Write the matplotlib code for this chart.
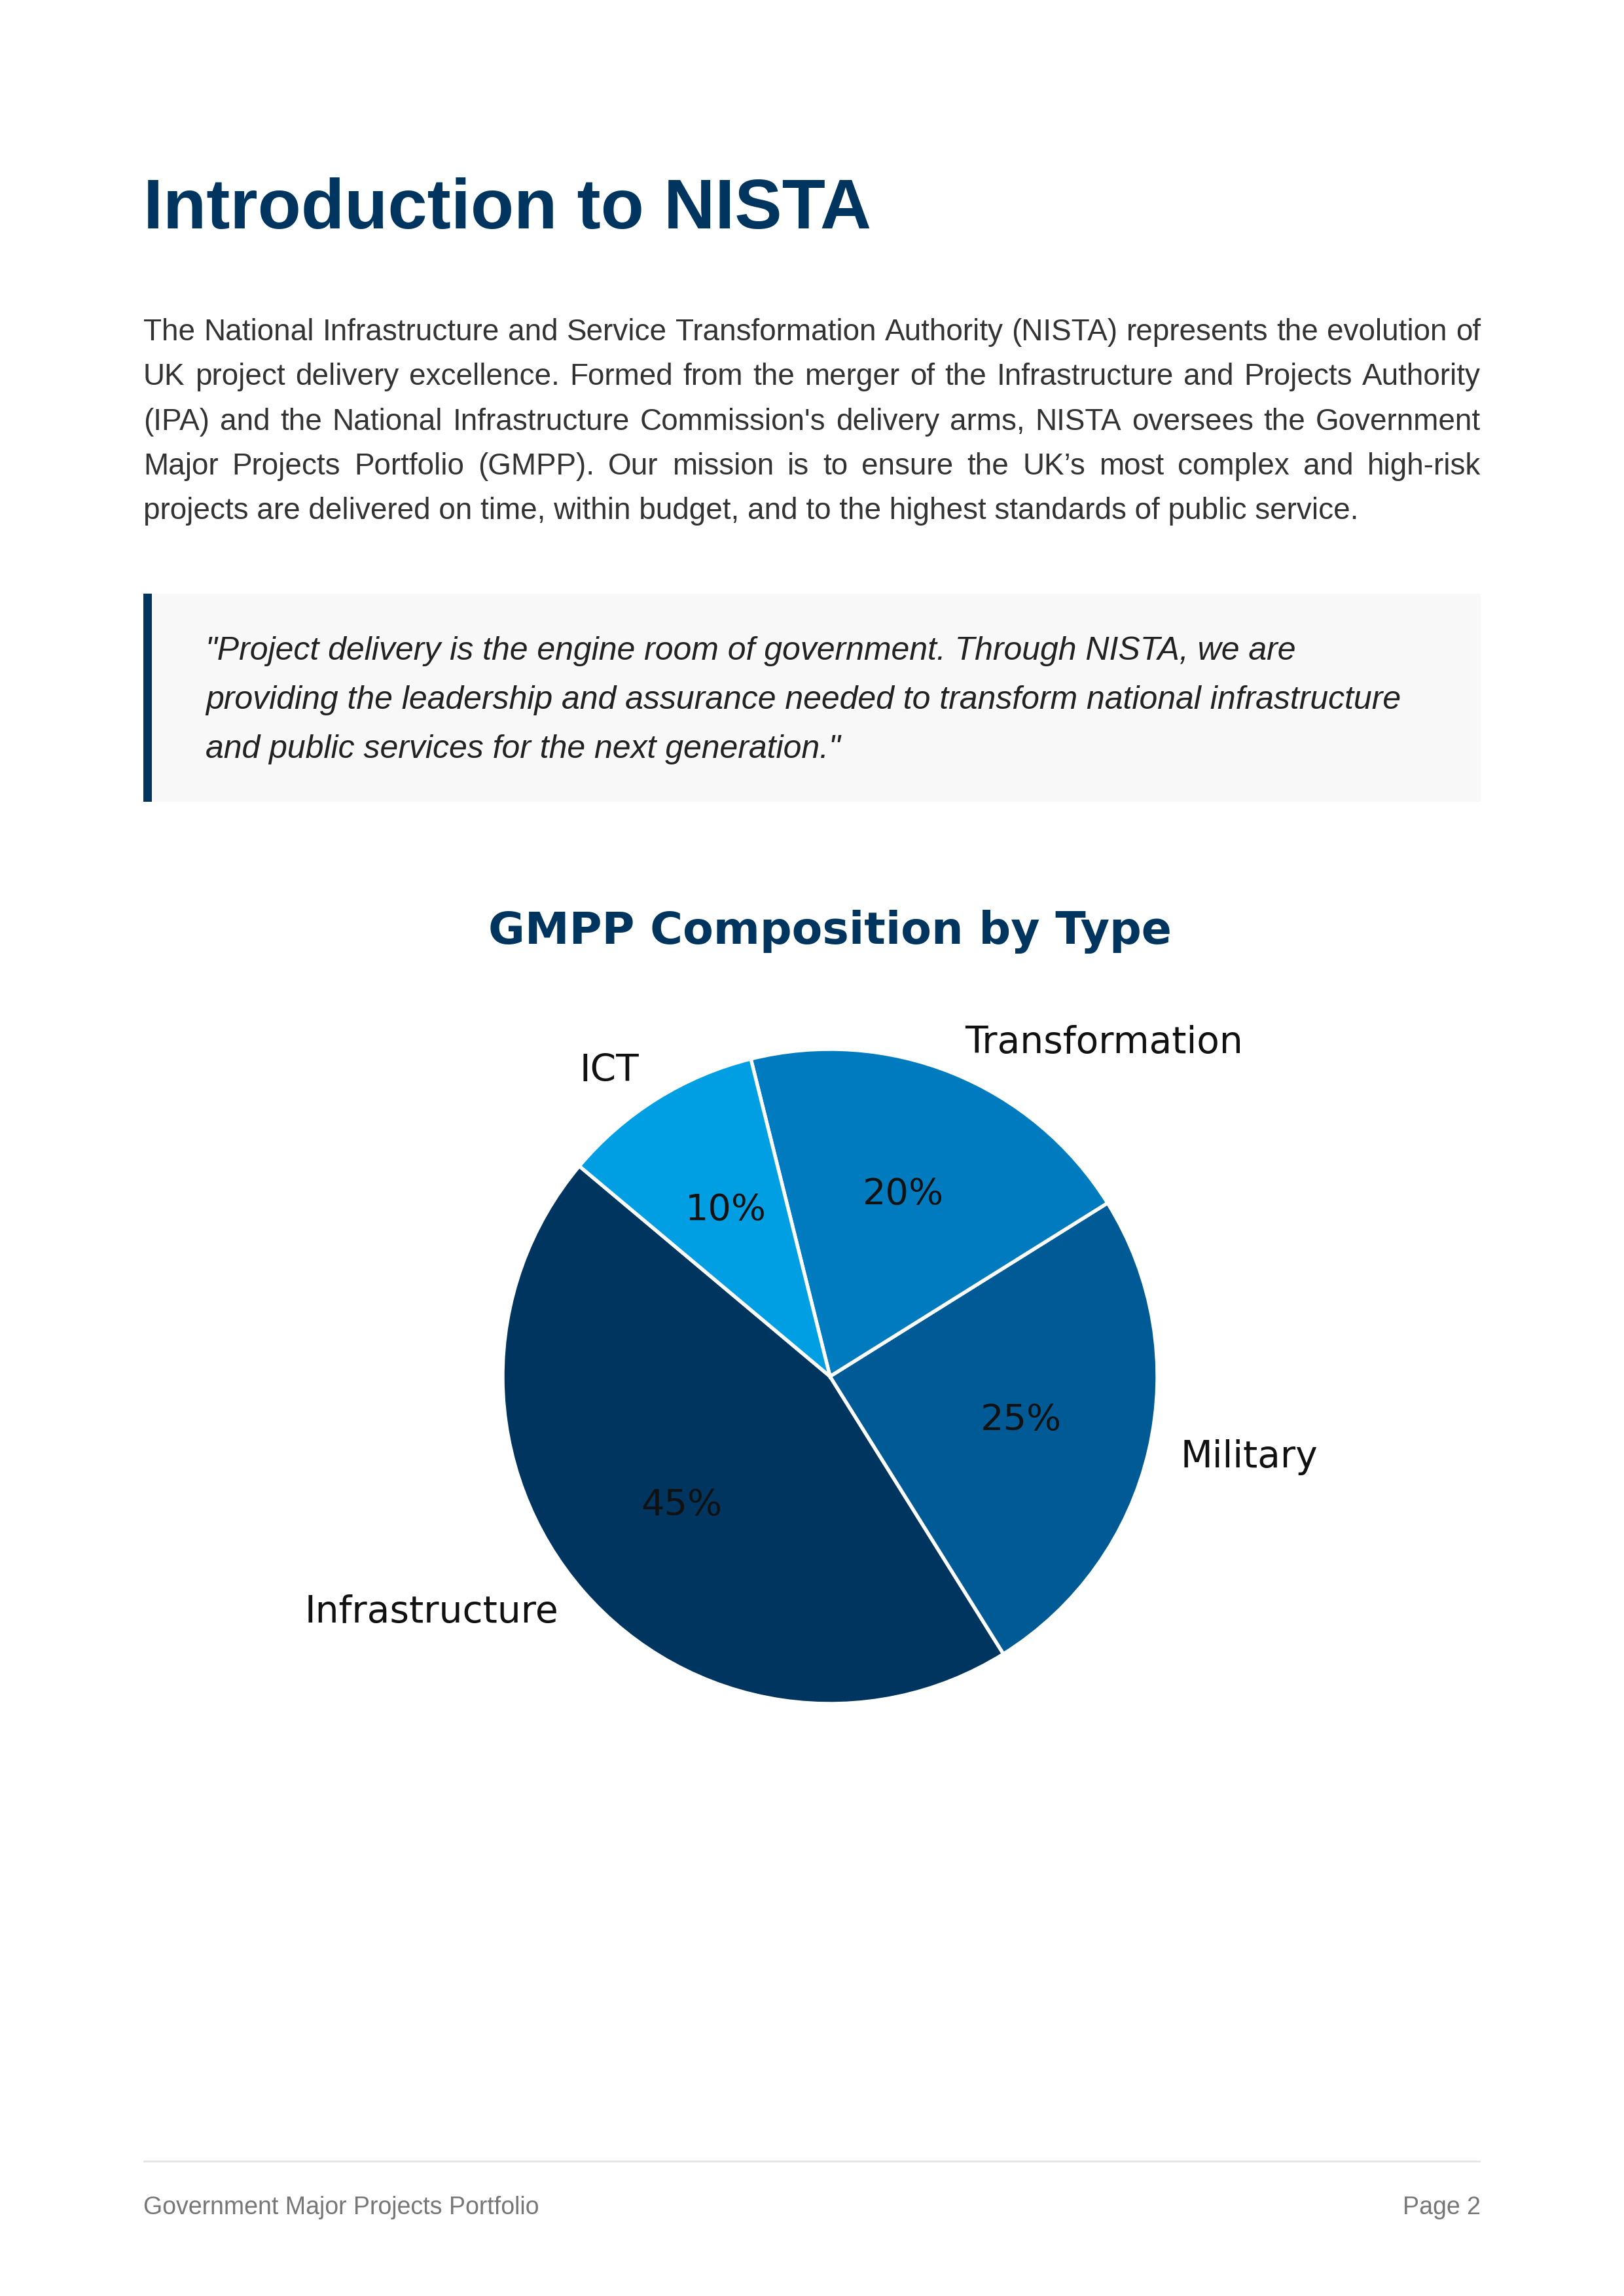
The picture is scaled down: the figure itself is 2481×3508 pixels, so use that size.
import matplotlib
matplotlib.use("Agg")
import matplotlib.pyplot as plt
from matplotlib.patches import Rectangle

# ---------------- data ----------------
categories = ["Infrastructure", "Military", "Transformation", "ICT"]
shares = [45, 25, 20, 10]
wedge_colors = ["#003560", "#005a96", "#007bbf", "#009fe3"]

page_title = "Introduction to NISTA"
body_lines = [
    "The National Infrastructure and Service Transformation Authority (NISTA) represents the evolution of",
    "UK project delivery excellence. Formed from the merger of the Infrastructure and Projects Authority",
    "(IPA) and the National Infrastructure Commission's delivery arms, NISTA oversees the Government",
    "Major Projects Portfolio (GMPP). Our mission is to ensure the UK\u2019s most complex and high-risk",
    "projects are delivered on time, within budget, and to the highest standards of public service.",
]
quote_lines = [
    "\"Project delivery is the engine room of government. Through NISTA, we are",
    "providing the leadership and assurance needed to transform national infrastructure",
    "and public services for the next generation.\"",
]
chart_title = "GMPP Composition by Type"
footer_left = "Government Major Projects Portfolio"
footer_right = "Page 2"

# ---------------- layout ----------------
W, H = 2481, 3508
DPI = 300
NAVY = "#003560"
plt.rcParams['font.family'] = ['Liberation Sans', 'DejaVu Sans']

fig = plt.figure(figsize=(W / DPI, H / DPI), dpi=DPI)
fig.patch.set_facecolor("white")


def fx(x):
    return x / W


def fy(y):
    return 1 - y / H


LEFT, RIGHT = 219, 2262

# Page title
fig.text(fx(LEFT), fy(349), page_title, fontsize=26, fontweight="bold",
         color=NAVY, va="baseline", ha="left")

# Body paragraph (justified)
renderer = fig.canvas.get_renderer()
body_baselines = [520, 588, 657, 725, 793]
for i, (line, yb) in enumerate(zip(body_lines, body_baselines)):
    if i == len(body_lines) - 1:
        fig.text(fx(LEFT), fy(yb), line, fontsize=11, color="#333333",
                 va="baseline", ha="left")
        continue
    words = line.split(" ")
    texts = [fig.text(0, fy(yb), w, fontsize=11, color="#333333",
                      va="baseline", ha="left") for w in words]
    widths = [t.get_window_extent(renderer).width for t in texts]
    gap = (RIGHT - LEFT - sum(widths)) / (len(words) - 1)
    x = LEFT
    for t, wd in zip(texts, widths):
        t.set_x(fx(x))
        x += wd + gap

# Quote box
fig.add_artist(Rectangle((fx(LEFT), fy(1225)), fx(RIGHT) - fx(LEFT),
                         fy(907) - fy(1225), transform=fig.transFigure,
                         facecolor="#f8f8f8", edgecolor="none"))
fig.add_artist(Rectangle((fx(LEFT), fy(1225)), fx(13), fy(907) - fy(1225),
                         transform=fig.transFigure, facecolor=NAVY,
                         edgecolor="none"))
for line, yb in zip(quote_lines, [1008, 1083, 1158]):
    fig.text(fx(314), fy(yb), line, fontsize=12, style="italic",
             color="#222222", va="baseline", ha="left")

# Pie chart
cx, cy, R = 1268, 2103, 500
half = 800
ax = fig.add_axes([fx(cx - half), fy(cy + half), 2 * half / W, 2 * half / H])
wedges, label_texts, pct_texts = ax.pie(
    shares, labels=categories, colors=wedge_colors, startangle=140,
    autopct="%1.0f%%", pctdistance=0.6, labeldistance=1.1,
    wedgeprops=dict(edgecolor="white", linewidth=1.3),
    textprops=dict(fontsize=13.6, family="DejaVu Sans", color="#111111"))
for t in pct_texts:
    t.set_fontsize(13.4)
lim = half / R
ax.set_xlim(-lim, lim)
ax.set_ylim(-lim, lim)
ax.set_aspect("equal")
ax.axis("off")

fig.text(fx(cx), fy(1442), chart_title, fontsize=16.35, fontweight="bold",
         family="DejaVu Sans", color=NAVY, ha="center", va="baseline")

# Footer
fig.add_artist(Rectangle((fx(LEFT), fy(3304)), fx(RIGHT) - fx(LEFT),
                         fy(3301) - fy(3304), transform=fig.transFigure,
                         facecolor="#e6e6e6", edgecolor="none"))
fig.text(fx(LEFT), fy(3383), footer_left, fontsize=9, color="#777777",
         va="baseline", ha="left")
fig.text(fx(RIGHT), fy(3383), footer_right, fontsize=9, color="#777777",
         va="baseline", ha="right")

fig.savefig("out.png", dpi=DPI, facecolor="white")
